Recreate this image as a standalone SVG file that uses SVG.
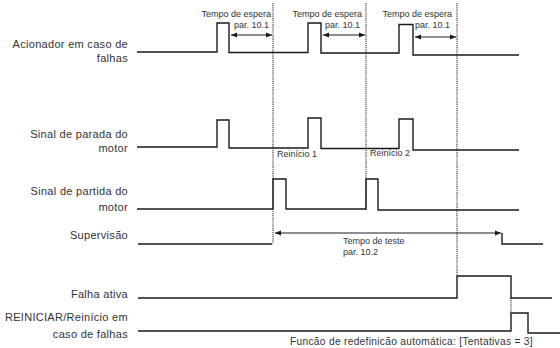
<svg xmlns="http://www.w3.org/2000/svg" width="560" height="348" viewBox="0 0 560 348">
<style>
.sig{fill:none;stroke:#1a1a1a;stroke-width:1.4}
.dash{fill:none;stroke:#333;stroke-width:1.1;stroke-dasharray:1.2 0.9}
.arr{fill:none;stroke:#1a1a1a;stroke-width:1;marker-start:url(#ah);marker-end:url(#ah)}
.lbl{font-family:"Liberation Sans",Arial,sans-serif;font-size:11px;letter-spacing:0.3px;fill:#333;text-anchor:end}
.sm{font-family:"Liberation Sans",Arial,sans-serif;font-size:9px;fill:#333}
</style>
<defs>
<marker id="ah" viewBox="0 0 10 10" refX="10" refY="5" markerWidth="6" markerHeight="6" orient="auto-start-reverse" markerUnits="userSpaceOnUse">
<path d="M0,1 L10,5 L0,9 Z" fill="#1a1a1a"/>
</marker>
</defs>
<rect width="560" height="348" fill="#fff"/>
<g id="connectors">
<path class="dash" d="M273,3 V244 M366,3 V210 M457,3 V276 M511,298 V313"/>
<path class="arr" d="M231,35 H272"/>
<path class="arr" d="M323,35 H365"/>
<path class="arr" d="M415,37 H456"/>
<path class="arr" d="M275,233 H501"/>
</g>
<g id="acionador">
<text class="lbl" x="128" y="48">Acionador em caso de</text>
<text class="lbl" x="128" y="62">falhas</text>
<path class="sig" d="M137,52 H217 V23 H229 V52.5 H308 V23 H321 V53 H399 V24.5 H413 V55 H519"/>
</g>
<g id="parada">
<text class="lbl" x="128" y="138">Sinal de parada do</text>
<text class="lbl" x="128" y="152">motor</text>
<path class="sig" d="M137,147 H217 V120 H229 V148 H308 V118 H321 V148.5 H399 V119 H413 V150 H519"/>
<text class="sm" x="277" y="157">Reinício 1</text>
<text class="sm" x="370" y="156">Reinício 2</text>
</g>
<g id="partida">
<text class="lbl" x="128" y="195">Sinal de partida do</text>
<text class="lbl" x="128" y="211">motor</text>
<path class="sig" d="M137,209 H273 V179 H286 V209 H366 V179 H378 V210 H519"/>
</g>
<g id="supervisao">
<text class="lbl" x="128" y="239">Supervisão</text>
<path class="sig" d="M138,244 H272"/>
<path class="sig" d="M502,233 V244 H543"/>
<text class="sm" x="343" y="244">Tempo de teste</text>
<text class="sm" x="343" y="255">par. 10.2</text>
</g>
<g id="falha">
<text class="lbl" x="128" y="298">Falha ativa</text>
<path class="sig" d="M138,298 H457 V276 H511 V298 H552"/>
</g>
<g id="reiniciar">
<text class="lbl" x="128" y="321">REINICIAR/Reinício em</text>
<text class="lbl" x="128" y="338">caso de falhas</text>
<path class="sig" d="M138,331 H511 V313 H528 V333 H560"/>
<text class="sm" x="290" y="345" style="font-size:10.2px;letter-spacing:0.3px">Funcão de redefinicão automática: [Tentativas = 3]</text>
</g>
<g id="labels-top">
<text class="sm" x="271" y="16.5" text-anchor="end">Tempo de espera</text>
<text class="sm" x="269" y="28" text-anchor="end">par. 10.1</text>
<text class="sm" x="362" y="16.5" text-anchor="end">Tempo de espera</text>
<text class="sm" x="360" y="28" text-anchor="end">par. 10.1</text>
<text class="sm" x="452" y="16.5" text-anchor="end">Tempo de espera</text>
<text class="sm" x="450" y="28" text-anchor="end">par. 10.1</text>
</g>
</svg>
